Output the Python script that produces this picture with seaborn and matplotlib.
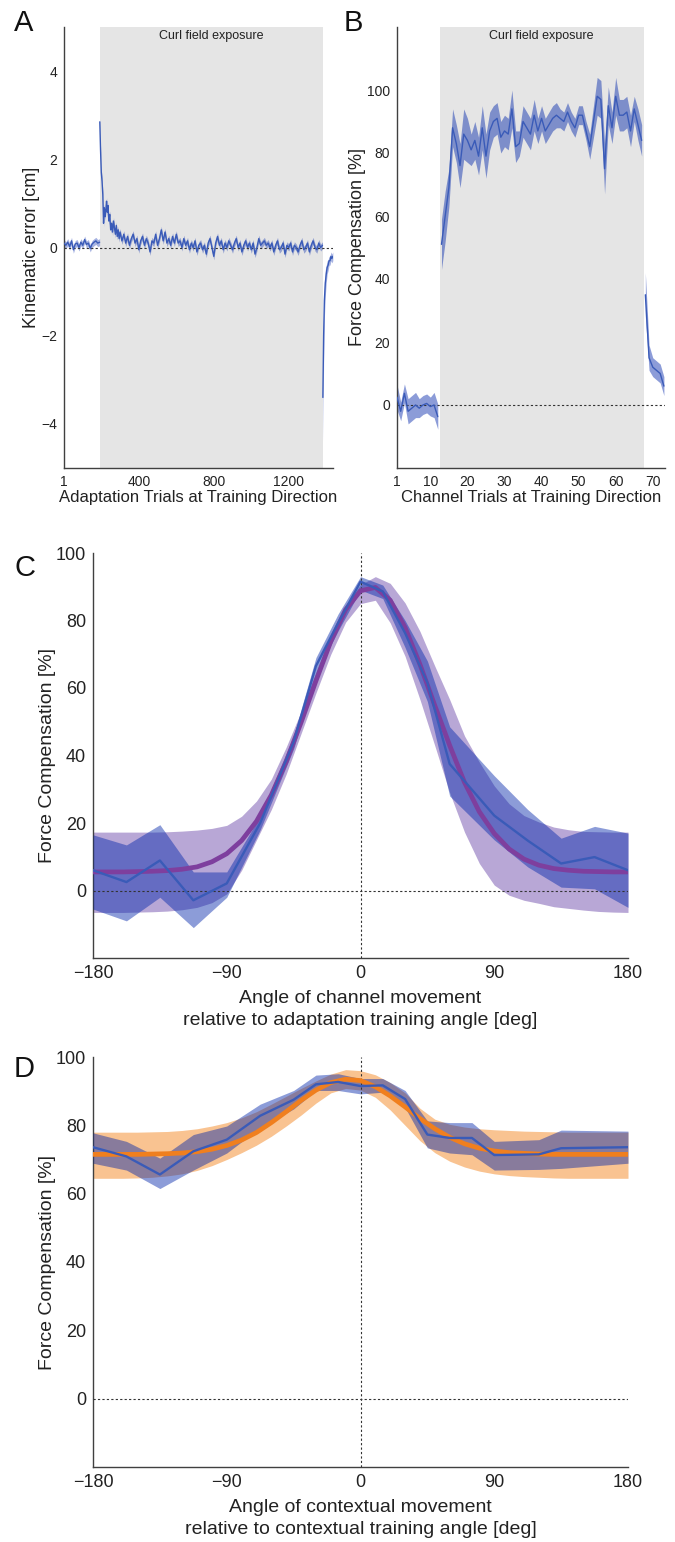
import numpy as np
import matplotlib
matplotlib.use('Agg')
import matplotlib.pyplot as plt
import seaborn as sns
from matplotlib.ticker import FixedLocator

sns.set_theme(style='white')
plt.rcParams['font.family'] = ['Liberation Sans', 'DejaVu Sans']
plt.rcParams['axes.unicode_minus'] = True

# ---------------- Panel A data: kinematic error ----------------
a_base_trials = np.arange(1, 192, 10)
a_base_err = [0.10, 0.05, 0.12, 0.02, 0.15, -0.05, 0.08, 0.10, 0.00, 0.12,
              0.05, 0.18, 0.07, 0.10, -0.02, 0.08, 0.12, 0.15, 0.10, 0.12]
a_exp_trials = np.concatenate([[192, 196, 200, 204, 208, 212, 216, 220, 224, 228, 232, 236,
                                240, 245, 250, 255, 260, 265, 270, 275, 280, 285, 290, 295],
                               np.arange(300, 1381, 10)])
a_exp_err = [2.85, 2.20, 1.70, 1.50, 1.20, 0.55, 0.90, 0.70, 0.85, 1.05, 0.80, 0.95,
             0.60, 0.75, 0.40, 0.55, 0.35, 0.60, 0.45, 0.30, 0.50, 0.25, 0.40, 0.20,
             0.35, 0.15, 0.30, 0.10, 0.25, 0.05, 0.20, 0.30, 0.10, 0.20,
             -0.05, 0.15, 0.25, 0.05, 0.20, 0.10, -0.10, 0.15, 0.10, 0.30,
             0.05, 0.20, 0.40, 0.15, 0.35, 0.10, 0.20, 0.05, 0.25, 0.10,
             0.30, 0.10, 0.15, 0.00, 0.20, 0.05, 0.15, -0.05, 0.10, 0.00,
             0.15, -0.10, 0.05, 0.10, -0.05, 0.05, -0.15, 0.10, 0.20, 0.00,
             -0.20, 0.10, 0.25, 0.05, 0.15, -0.05, 0.10, 0.00, 0.15, 0.05,
             -0.05, 0.10, 0.20, 0.00, 0.10, -0.10, 0.05, 0.15, 0.00, 0.10,
             -0.05, 0.10, -0.15, 0.00, 0.20, 0.05, 0.10, 0.15, 0.05, 0.10,
             0.00, 0.10, -0.10, 0.05, 0.15, -0.05, 0.00, 0.10, -0.15, 0.05,
             0.00, 0.10, -0.10, 0.05, 0.00, -0.10, 0.05, 0.15, -0.05, 0.00,
             0.10, -0.10, 0.05, 0.15, 0.00, -0.05, 0.10, 0.00, 0.05]
a_post_trials = [1382, 1386, 1390, 1395, 1400, 1405, 1410, 1415, 1420, 1425, 1430, 1435]
a_post_err = [-3.40, -2.00, -1.20, -0.80, -0.60, -0.45, -0.40, -0.30, -0.30, -0.20, -0.25, -0.20]
a_post_se = [1.00, 0.60, 0.40, 0.30, 0.20, 0.15, 0.12, 0.10, 0.10, 0.10, 0.10, 0.10]
a_se = 0.08
a_field = (192, 1381)

# ---------------- Panel B data: channel trials ----------------
b_base_trials = np.arange(1, 13)
b_base_fc = [2.5, -2.0, 3.7, -2.0, -1.0, 0.0, -1.0, 0.0, 0.5, -0.5, 0.0, -3.7]
b_base_se = [4, 3, 3, 4, 4, 4, 3, 3, 3, 3, 4, 4]
b_exp_trials = np.arange(13, 68)
b_exp_fc = [51, 60, 69, 88, 83, 76, 86, 84, 81, 84,
            79, 88, 79, 87, 90, 91, 85, 87, 86, 94,
            82, 83, 90, 88, 86, 92, 87, 91, 87, 89,
            91, 92, 91, 90, 93, 90, 88, 92, 92, 87,
            82, 90, 98, 97, 75, 95, 88, 98, 92, 92,
            93, 87, 94, 89, 84]
b_exp_se = [8, 8, 6, 6, 6, 7, 8, 7, 5, 6,
            6, 7, 7, 6, 5, 5, 5, 5, 5, 6,
            5, 4, 5, 5, 5, 5, 4, 4, 4, 4,
            4, 4, 3, 3, 3, 3, 3, 3, 3, 3,
            4, 5, 6, 6, 8, 6, 5, 6, 5, 5,
            5, 5, 4, 5, 5]
b_post_trials = np.arange(68, 74)
b_post_fc = [35, 15, 12, 11, 10, 6]
b_post_se = [7, 4, 3, 3, 3, 3]
b_field = (12.5, 67.5)

# ---------------- Panel C data: generalisation, channel angle ----------------
c_angles = [-180, -157.5, -135, -112.5, -90, -67.5, -45, -30, -15, 0,
            15, 30, 45, 60, 90, 112.5, 135, 157.5, 180]
c_fc = [6.0, 2.5, 8.9, -2.9, 2.1, 20.0, 44.0, 66.5, 79.3, 91.5,
        88.6, 76.3, 61.6, 37.5, 22.2, 14.8, 8.0, 9.9, 6.0]
c_fc_hi = [16.5, 13.5, 19.5, 5.5, 5.5, 22.0, 46.0, 69.0, 82.0, 93.0,
           90.5, 80.0, 68.0, 48.5, 34.0, 24.0, 15.5, 19.0, 17.0]
c_fc_lo = [-5.5, -9.0, -2.0, -11.0, -2.0, 18.0, 42.0, 64.0, 77.0, 89.0,
           86.5, 72.0, 56.0, 28.0, 15.0, 7.0, 1.0, 0.5, -5.0]
fit_angles = list(range(-180, 181, 10))
c_fit = [5.5, 5.5, 5.5, 5.6, 5.7, 5.9, 6.3, 7.0, 8.5, 10.9,
         14.8, 20.5, 28.3, 38.2, 49.8, 62.1, 73.8, 83.2, 88.8, 89.8,
         86.0, 77.9, 67.0, 54.8, 43.0, 32.0, 23.3, 16.9, 12.3, 9.3,
         7.5, 6.5, 6.0, 5.7, 5.6, 5.5, 5.5]
c_fit_hi = [17.3, 17.3, 17.3, 17.3, 17.3, 17.4, 17.6, 17.9, 18.4, 19.3,
            22.0, 26.5, 33.0, 42.5, 53.0, 64.5, 75.5, 84.5, 90.6, 93.0,
            91.0, 85.2, 76.8, 66.5, 56.6, 45.8, 38.0, 31.0, 25.7, 22.2,
            20.3, 18.8, 18.0, 17.5, 17.4, 17.3, 17.3]
c_fit_lo = [-6.5, -6.5, -6.5, -6.4, -6.3, -6.1, -5.7, -5.0, -3.6, -1.0,
            6.0, 15.0, 24.0, 34.5, 46.5, 58.5, 70.0, 79.5, 85.0, 86.0,
            79.3, 69.4, 56.6, 42.9, 29.0, 17.3, 8.0, 1.6, -1.4, -2.9,
            -3.8, -4.8, -5.3, -5.8, -6.2, -6.4, -6.5]

# ---------------- Panel D data: contextual angle ----------------
d_angles = [-180, -157.5, -135, -112.5, -90, -67.5, -45, -30, -15, 0,
            15, 30, 45, 60, 75, 90, 120, 135, 180]
d_fc = [73.6, 70.9, 65.6, 72.4, 75.8, 82.8, 87.5, 92.0, 92.7, 91.5,
        91.7, 87.7, 77.3, 76.3, 76.3, 71.3, 71.5, 73.3, 73.6]
d_fc_hi = [77.8, 75.3, 70.4, 77.3, 79.8, 86.2, 90.2, 94.7, 95.1, 93.7,
           93.7, 90.2, 81.3, 80.8, 80.8, 75.3, 75.8, 78.6, 78.3]
d_fc_lo = [68.9, 66.9, 61.5, 66.9, 71.9, 79.3, 84.8, 90.2, 90.2, 89.2,
           89.7, 85.2, 73.4, 71.9, 71.4, 66.9, 67.1, 67.4, 68.9]
d_fit = [71.5, 71.5, 71.5, 71.5, 71.6, 71.7, 71.9, 72.3, 73.0, 74.1,
         75.7, 77.9, 80.8, 84.0, 87.3, 90.3, 92.5, 93.5, 93.1, 91.3,
         88.6, 85.4, 82.0, 79.0, 76.5, 74.6, 73.3, 72.5, 72.0, 71.8,
         71.6, 71.5, 71.5, 71.5, 71.5, 71.5, 71.5]
d_fit_hi = [78.0, 78.0, 78.0, 78.0, 78.1, 78.2, 78.5, 79.0, 79.8, 80.8,
            82.2, 84.0, 86.2, 88.5, 90.8, 93.0, 95.0, 96.3, 96.0, 94.8,
            92.5, 89.5, 85.0, 81.8, 80.3, 79.5, 79.0, 78.7, 78.5, 78.3,
            78.2, 78.1, 78.0, 78.0, 78.0, 78.0, 78.0]
d_fit_lo = [64.5, 64.5, 64.5, 64.6, 64.8, 65.2, 65.8, 66.8, 68.2, 70.0,
            72.0, 74.2, 76.8, 79.8, 83.0, 86.5, 89.5, 90.8, 90.3, 88.2,
            84.5, 80.0, 75.5, 72.0, 69.5, 67.8, 66.6, 65.8, 65.3, 65.0,
            64.8, 64.6, 64.5, 64.5, 64.5, 64.5, 64.5]

# ---------------- styling ----------------
W, H = 675, 1542
BLUE = '#3a5bb8'
BLUE_BAND = '#0025aa'
PURPLE = '#7e3f9e'
PURPLE_BAND = '#b8a7d6'
ORANGE = '#f07f1e'
ORANGE_BAND = '#f9c391'
SHADE = '#e5e5e5'
SPINE = '#404040'
TXT = '#222222'
DOT = dict(color='#333333', lw=0.8, ls=(0, (2, 2)))


def box(l, t, r, b):
    return [l / W, 1 - b / H, (r - l) / W, (b - t) / H]


def style(ax, fs):
    for s in ['top', 'right']:
        ax.spines[s].set_visible(False)
    for s in ['left', 'bottom']:
        ax.spines[s].set_color(SPINE)
        ax.spines[s].set_linewidth(1.0)
    ax.tick_params(which='both', direction='in', length=3.5, width=0.9,
                   color=SPINE, labelsize=fs, labelcolor=TXT, pad=5)
    ax.set_facecolor('white')


fig = plt.figure(figsize=(W / 100, H / 100), dpi=100)

# ---------------- A ----------------
axA = fig.add_axes(box(64, 27, 333, 468))
axA.axvspan(*a_field, color=SHADE, lw=0, zorder=0)
axA.axhline(0, zorder=2.5, **DOT)
for xs, ys, se in [(a_base_trials, a_base_err, a_se),
                   (a_exp_trials, a_exp_err, a_se),
                   (a_post_trials, a_post_err, np.array(a_post_se))]:
    ys = np.array(ys)
    axA.fill_between(xs, ys - se, ys + se, color=BLUE_BAND, alpha=0.35, lw=0, zorder=2)
    sns.lineplot(x=xs, y=ys, ax=axA, color=BLUE, lw=1.0, zorder=3)
axA.set_xlim(1, 1436)
axA.set_ylim(-5, 5)
axA.set_yticks([-4, -2, 0, 2, 4])
axA.yaxis.set_minor_locator(FixedLocator([-3, -1, 1, 3]))
axA.set_xticks([1, 400, 800, 1200])
axA.xaxis.set_minor_locator(FixedLocator([200, 600, 1000, 1400]))
style(axA, 10)
axA.set_xlabel('Adaptation Trials at Training Direction', fontsize=12, labelpad=1, color=TXT)
axA.set_ylabel('Kinematic error [cm]', fontsize=13, labelpad=1, color=TXT)
axA.text(sum(a_field) / 2, 0.98, 'Curl field exposure', transform=axA.get_xaxis_transform(),
         ha='center', va='center', fontsize=9, color=TXT)

# ---------------- B ----------------
axB = fig.add_axes(box(397, 27, 665, 468))
axB.axvspan(*b_field, color=SHADE, lw=0, zorder=0)
axB.axhline(0, zorder=2.5, **DOT)
for xs, ys, se in [(b_base_trials, b_base_fc, b_base_se),
                   (b_exp_trials, b_exp_fc, b_exp_se),
                   (b_post_trials, b_post_fc, b_post_se)]:
    ys = np.array(ys, dtype=float)
    se = np.array(se, dtype=float)
    axB.fill_between(xs, ys - se, ys + se, color=BLUE_BAND, alpha=0.45, lw=0, zorder=2)
    sns.lineplot(x=xs, y=ys, ax=axB, color=BLUE, lw=1.0, zorder=3)
axB.set_xlim(1, 73.3)
axB.set_ylim(-20, 120)
axB.set_yticks([0, 20, 40, 60, 80, 100])
axB.set_xticks([1, 10, 20, 30, 40, 50, 60, 70])
style(axB, 10)
axB.set_xlabel('Channel Trials at Training Direction', fontsize=12, labelpad=1, color=TXT)
axB.set_ylabel('Force Compensation [%]', fontsize=13, labelpad=1, color=TXT)
axB.text(sum(b_field) / 2, 0.98, 'Curl field exposure', transform=axB.get_xaxis_transform(),
         ha='center', va='center', fontsize=9, color=TXT)


def gen_panel(ax, fit_c, fit_band_c, fit_x, fit_y, fit_hi, fit_lo, xs, ys, hi, lo, xlabel):
    ax.axhline(0, zorder=3.5, **DOT)
    ax.axvline(0, zorder=3.5, **DOT)
    ax.fill_between(fit_x, fit_lo, fit_hi, color=fit_band_c, lw=0, zorder=2)
    ax.fill_between(xs, lo, hi, color=BLUE_BAND, alpha=0.45, lw=0, zorder=3)
    sns.lineplot(x=fit_x, y=fit_y, ax=ax, color=fit_c, lw=3.4, zorder=4)
    sns.lineplot(x=xs, y=ys, ax=ax, color=BLUE, lw=1.7, zorder=5)
    ax.set_xlim(-180, 180)
    ax.set_ylim(-20, 100)
    ax.set_xticks([-180, -90, 0, 90, 180])
    ax.xaxis.set_minor_locator(FixedLocator([-135, -45, 45, 135]))
    ax.set_yticks([0, 20, 40, 60, 80, 100])
    style(ax, 13)
    ax.set_xlabel(xlabel, fontsize=14, labelpad=6, color=TXT, linespacing=1.4)
    ax.set_ylabel('Force Compensation [%]', fontsize=14, labelpad=0, color=TXT)


axC = fig.add_axes(box(93, 553, 628, 958))
gen_panel(axC, PURPLE, PURPLE_BAND, fit_angles, c_fit, c_fit_hi, c_fit_lo,
          c_angles, c_fc, c_fc_hi, c_fc_lo,
          'Angle of channel movement\nrelative to adaptation training angle [deg]')

axD = fig.add_axes(box(93, 1057, 628, 1467))
gen_panel(axD, ORANGE, ORANGE_BAND, fit_angles, d_fit, d_fit_hi, d_fit_lo,
          d_angles, d_fc, d_fc_hi, d_fc_lo,
          'Angle of contextual movement\nrelative to contextual training angle [deg]')

for letter, x, y in [('A', 14, 31), ('B', 344, 31), ('C', 14, 576), ('D', 14, 1077)]:
    fig.text(x / W, 1 - y / H, letter, fontsize=21, color='#111111', ha='left', va='baseline')

fig.savefig('out.png', dpi=100, facecolor='white')
